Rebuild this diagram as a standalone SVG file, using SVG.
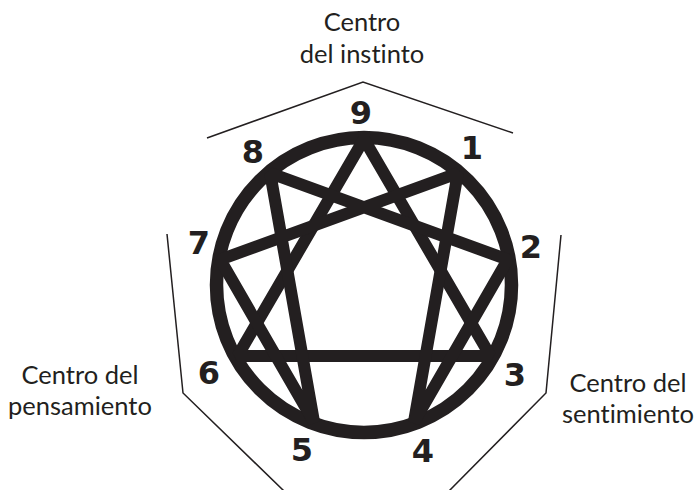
<svg xmlns="http://www.w3.org/2000/svg" width="697" height="490" viewBox="0 0 697 490">
<style>
.bg{fill:#ffffff}
.ring{fill:none;stroke:#231f20;stroke-width:13.5}
.star{fill:none;stroke:#231f20;stroke-width:12;stroke-linejoin:bevel}
.num{font-family:"DejaVu Sans",sans-serif;font-weight:bold;font-size:32px;fill:#231f20;text-anchor:middle}
.ctr{font-family:Lato,"Open Sans",sans-serif;font-size:25.5px;fill:#231f20;text-anchor:middle;font-variant-ligatures:none;font-feature-settings:"liga" 0,"clig" 0}
.bound{fill:none;stroke:#231f20;stroke-width:1.5}
</style>
<rect class="bg" x="0" y="0" width="697" height="490"/>
<g id="enneagram">
<circle class="ring" cx="364" cy="285" r="147.5"/>
<path class="star" d="M364,139 L490.4,356 L237.6,356 Z"/>
<path class="star" d="M457.8,173.2 L413.9,422.2 L507.8,259.6 L270.2,173.2 L314.1,422.2 L220.2,259.6 Z"/>
</g>
<g id="connectors">
<polyline class="bound" points="207,138 363,82 513,133"/>
<polyline class="bound" points="167,234 183,393 284,491"/>
<polyline class="bound" points="561,235 546,393 449,491"/>
</g>
<g id="n9"><text class="num" x="361" y="124">9</text></g>
<g id="n1"><text class="num" x="472" y="159">1</text></g>
<g id="n2"><text class="num" x="531" y="258">2</text></g>
<g id="n3"><text class="num" x="515" y="386">3</text></g>
<g id="n4"><text class="num" x="423" y="462">4</text></g>
<g id="n5"><text class="num" x="302" y="461">5</text></g>
<g id="n6"><text class="num" x="209" y="384">6</text></g>
<g id="n7"><text class="num" x="199" y="254">7</text></g>
<g id="n8"><text class="num" x="253" y="163">8</text></g>
<g id="instinto"><text class="ctr" x="362" y="31">Centro</text><text class="ctr" x="362" y="63">del instinto</text></g>
<g id="pensamiento"><text class="ctr" x="80" y="384">Centro del</text><text class="ctr" x="80" y="415">pensamiento</text></g>
<g id="sentimiento"><text class="ctr" x="628" y="392">Centro del</text><text class="ctr" x="628" y="423">sentimiento</text></g>
</svg>
